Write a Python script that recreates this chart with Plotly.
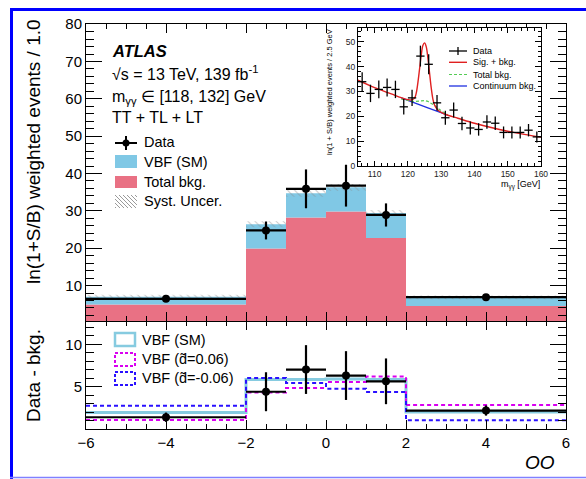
import plotly.graph_objects as go

# ---------------- data ----------------
edges = [-6, -2, -1, 0, 1, 2, 6]
bkg = [4.9, 19.9, 28.2, 29.8, 22.7, 4.5]
vbf_main = [2.1, 6.5, 6.5, 6.5, 6.7, 2.3]
syst = [0.5, 0.8, 0.9, 0.9, 0.8, 0.5]
data_main = [6.45, 24.75, 35.9, 36.75, 28.9, 6.88]
data_main_err = [0.5, 2.4, 5.2, 5.6, 3.1, 0.5]

data_sub = [1.39, 4.4, 7.02, 6.31, 5.63, 2.18]
data_sub_err = [0.55, 2.3, 2.88, 2.88, 2.7, 0.6]
vbf_sm = [1.94, 5.85, 5.85, 5.9, 5.85, 2.02]
vbf_p006 = [1.07, 4.32, 4.84, 5.56, 6.19, 2.82]
vbf_m006 = [2.74, 6.03, 5.44, 4.76, 4.37, 1.04]

inset_x = [106.25, 108.75, 111.25, 113.75, 116.25, 118.75, 121.25, 123.75, 126.25,
           128.75, 131.25, 133.75, 136.25, 138.75, 141.25, 143.75, 146.25, 148.75,
           151.25, 153.75, 156.25, 158.75]
inset_y = [33.9, 29.2, 30.8, 31.6, 30.8, 23.8, 27.4, 44.2, 40.9, 25.4, 19.4, 22.5,
           17.1, 15.3, 14.7, 17.7, 17.2, 13.5, 13.5, 13.5, 14.4, 11.7]
inset_yerr = [3.8, 3.5, 3.6, 3.6, 3.5, 3.1, 3.3, 4.2, 4.0, 3.2, 2.8, 3.0, 2.7, 2.6,
              2.5, 2.7, 2.7, 2.4, 2.4, 2.4, 2.5, 2.2]
inset_binhalf = [1.25] * 22

sb_x = [105, 110, 115, 118, 120, 121, 122, 122.5, 123, 123.5, 124, 124.5, 125, 125.5,
        126, 126.5, 127, 127.5, 128, 129, 130, 132, 135, 140, 145, 150, 155, 160]
sb_y = [34.5, 31.5, 29.0, 27.5, 26.7, 26.6, 27.3, 29.3, 33.5, 39.0, 44.5, 48.5, 49.5,
        48.0, 43.5, 37.5, 31.5, 27.0, 24.5, 22.5, 21.6, 20.4, 19.2, 17.2, 15.5, 14.0,
        12.7, 11.6]
tb_x = [118, 120, 122, 124, 125, 126, 128, 130, 132]
tb_y = [26.9, 26.4, 25.9, 26.2, 26.3, 26.0, 24.4, 22.2, 20.6]
cont_x = [118, 120, 122, 124, 126, 128, 130, 132]
cont_y = [27.4, 26.5, 25.5, 24.4, 23.4, 22.4, 21.4, 20.5]

# ---------------- styles ----------------
FONT = "Liberation Sans, Arial, sans-serif"
PINK = "#E97184"
BLUE = "#80C8E5"
CYAN = "#86CBE0"
MAG = "#D900F0"
DBLUE = "#2A10FF"

W, H = 586, 479
ML, MR, MT, MB = 86, 20, 24, 50
PW = W - ML - MR
PH = H - MT - MB


def PX(px):
    return (px - ML) / PW


def PY(py):
    return (H - MB - py) / PH


split = PY(321)

centers = [(a + b) / 2 for a, b in zip(edges[:-1], edges[1:])]
widths = [b - a for a, b in zip(edges[:-1], edges[1:])]
half = [w / 2 for w in widths]
total = [b + v for b, v in zip(bkg, vbf_main)]

fig = go.Figure()

# ---------------- main panel ----------------
fig.add_trace(go.Bar(x=centers, y=bkg, width=widths, base=[0] * len(bkg),
                     marker=dict(color=PINK, line_width=0), xaxis="x2", yaxis="y2"))
fig.add_trace(go.Bar(x=centers, y=vbf_main, width=widths, base=bkg,
                     marker=dict(color=BLUE, line_width=0), xaxis="x2", yaxis="y2"))
fig.add_trace(go.Bar(x=centers, y=[2 * s for s in syst], width=widths,
                     base=[t - s for t, s in zip(total, syst)],
                     marker=dict(color="rgba(0,0,0,0)", line_width=0,
                                 pattern=dict(shape="\\", fgcolor="#8a8a8a",
                                              bgcolor="rgba(0,0,0,0)", size=5, solidity=0.2)),
                     xaxis="x2", yaxis="y2"))
fig.add_trace(go.Scatter(x=centers, y=data_main, mode="markers",
                         marker=dict(color="black", size=8),
                         error_x=dict(type="data", array=half, color="black", thickness=2.2, width=0),
                         error_y=dict(type="data", array=data_main_err, color="black", thickness=2.2, width=0),
                         xaxis="x2", yaxis="y2"))

# ---------------- lower panel ----------------
for vals, col, dash, wid in [(vbf_sm, CYAN, "solid", 3), (vbf_p006, MAG, "4px,3px", 2),
                             (vbf_m006, DBLUE, "4px,3px", 2)]:
    fig.add_trace(go.Scatter(x=edges, y=vals + [vals[-1]], mode="lines",
                             line=dict(color=col, width=wid, dash=dash, shape="hv"),
                             xaxis="x", yaxis="y"))
fig.add_trace(go.Scatter(x=centers, y=data_sub, mode="markers",
                         marker=dict(color="black", size=8),
                         error_x=dict(type="data", array=half, color="black", thickness=2.2, width=0),
                         error_y=dict(type="data", array=data_sub_err, color="black", thickness=2.2, width=0),
                         xaxis="x", yaxis="y"))

# ---------------- inset ----------------
fig.add_trace(go.Scatter(x=cont_x, y=cont_y, mode="lines", line=dict(color="#2030e0", width=1.3),
                         xaxis="x3", yaxis="y3"))
fig.add_trace(go.Scatter(x=tb_x, y=tb_y, mode="lines", line=dict(color="#55cc55", width=1.2, dash="3px,2px"),
                         xaxis="x3", yaxis="y3"))
fig.add_trace(go.Scatter(x=sb_x, y=sb_y, mode="lines", line=dict(color="#e02020", width=1.4, shape="spline"),
                         xaxis="x3", yaxis="y3"))
fig.add_trace(go.Scatter(x=inset_x, y=inset_y, mode="markers", marker=dict(size=1, color="black"),
                         error_x=dict(type="data", array=inset_binhalf, color="black", thickness=1.3, width=0),
                         error_y=dict(type="data", array=inset_yerr, color="black", thickness=1.3, width=0),
                         xaxis="x3", yaxis="y3"))

tickfont = dict(family=FONT, size=15, color="black")
common = dict(showline=True, linecolor="black", linewidth=1, mirror="allticks", ticks="inside",
              showgrid=False, zeroline=False, tickfont=tickfont, tickcolor="black")

fig.update_layout(
    width=W, height=H, margin=dict(l=ML, r=MR, t=MT, b=MB),
    paper_bgcolor="white", plot_bgcolor="white", showlegend=False, barmode="overlay",
    font=dict(family=FONT, color="black"),
    xaxis=dict(common, domain=[0, 1], range=[-6, 6], anchor="y", tick0=-6, dtick=2, ticklen=9,
               minor=dict(dtick=0.5, tick0=-6, ticklen=5, ticks="inside", tickcolor="black")),
    yaxis=dict(common, domain=[0, split], range=[0, 12.75], anchor="x", tickvals=[5, 10], ticklen=16,
               minor=dict(dtick=1, tick0=0, ticklen=8, ticks="inside", tickcolor="black")),
    xaxis2=dict(common, domain=[0, 1], range=[-6, 6], anchor="y2", matches="x", showticklabels=False,
                tick0=-6, dtick=2, ticklen=9,
                minor=dict(dtick=0.5, tick0=-6, ticklen=5, ticks="inside", tickcolor="black")),
    yaxis2=dict(common, domain=[split, 1], range=[0.5, 80.05], anchor="x2", ticklen=16,
                tickvals=[10, 20, 30, 40, 50, 60, 70, 80],
                minor=dict(dtick=2, tick0=0, ticklen=8, ticks="inside", tickcolor="black")),
    xaxis3=dict(common, domain=[PX(358), PX(541)], range=[105, 160], anchor="y3", dtick=10, ticklen=5,
                tickfont=dict(family=FONT, size=8.5, color="#222"),
                minor=dict(dtick=2, ticklen=3, ticks="inside", tickcolor="black")),
    yaxis3=dict(common, domain=[PY(166), PY(28)], range=[0, 55.5], anchor="x3", dtick=10, ticklen=6,
                tickfont=dict(family=FONT, size=8.5, color="#222"),
                minor=dict(dtick=2, ticklen=3, ticks="inside", tickcolor="black")),
)

shapes = []
annos = []


def txt(x, y, s, size, **kw):
    d = dict(xref="paper", yref="paper", x=PX(x), y=PY(y), text=s, showarrow=False,
             xanchor="left", yanchor="middle", font=dict(family=FONT, size=size, color="black"))
    d.update(kw)
    annos.append(d)


def line(x0, y0, x1, y1, color="black", width=2, dash="solid"):
    shapes.append(dict(type="line", xref="paper", yref="paper", x0=PX(x0), y0=PY(y0), x1=PX(x1), y1=PY(y1),
                       line=dict(color=color, width=width, dash=dash)))


def rect(x0, y0, x1, y1, fill=None, color=None, width=0, dash="solid"):
    shapes.append(dict(type="rect", xref="paper", yref="paper", x0=PX(x0), y0=PY(y1), x1=PX(x1), y1=PY(y0),
                       fillcolor=fill if fill else "rgba(0,0,0,0)",
                       line=dict(color=color if color else "rgba(0,0,0,0)", width=width, dash=dash)))


# blue outer frame
rect(10, 8, 586, 11, fill="#0000ff")
rect(10, 8, 13, 479, fill="#0000ff")
line(10, 477.6, 586, 477.6, color="#8080ff", width=1.5)

# axis titles
txt(33, 152, "ln(1+S/B) weighted events / 1.0", 19, textangle=-90, xanchor="center")
txt(33, 376, "Data - bkg.", 19, textangle=-90, xanchor="center")
txt(557, 462, "<i>OO</i>", 19, xanchor="right")

# ATLAS labels
txt(110, 51, "<b><i>ATLAS</i></b>", 16.5)
txt(110, 73, "√s = 13 TeV, 139 fb<sup>-1</sup>", 16)
txt(110, 97, "m<sub>γγ</sub> ∈ [118, 132] GeV", 16)
txt(110, 117, "TT + TL + LT", 16)

# main legend
line(115, 143, 137, 143, width=2)
line(126, 136, 126, 150, width=2)
shapes.append(dict(type="circle", xref="paper", yref="paper", x0=PX(122.5), x1=PX(129.5), y0=PY(146.5),
                   y1=PY(139.5), fillcolor="black", line=dict(width=0)))
txt(142, 142, "Data", 14.5)
rect(115, 155, 137, 168, fill=BLUE)
txt(142, 162, "VBF (SM)", 14.5)
rect(115, 176, 137, 188, fill=PINK)
txt(142, 182, "Total bkg.", 14.5)
bx0, by0, bx1, by1 = 115, 195, 137, 208
for k in range(0, 22, 4):
    xs = bx0 + k
    xe = min(xs + (by1 - by0), bx1)
    line(xs, by0, xe, by0 + (xe - xs), color="#9a9a9a", width=1)
for j in range(4, 13, 4):
    line(bx0, by0 + j, bx0 + (by1 - by0 - j), by1, color="#9a9a9a", width=1)
txt(142, 201, "Syst. Uncer.", 14.5)

# lower legend
rect(115, 333, 135, 346, color=CYAN, width=2.5)
txt(140, 340, "VBF (SM)", 14.5)
rect(115, 353, 135, 366, color=MAG, width=2, dash="3px,2px")
txt(140, 359, "VBF (d̃=0.06)", 14.5)
rect(115, 372, 135, 385, color=DBLUE, width=2, dash="3px,2px")
txt(140, 378, "VBF (d̃=-0.06)", 14.5)

# inset legend & titles
line(449, 51, 467, 51, width=1.3)
line(458, 47, 458, 55, width=1.3)
txt(471, 51, "Data", 9)
line(449, 62.3, 467, 62.3, color="#e02020", width=1.4)
txt(471, 62.3, "Sig. + bkg.", 9)
line(449, 74.5, 467, 74.5, color="#55cc55", width=1.2, dash="3px,2px")
txt(471, 74.5, "Total bkg.", 9)
line(449, 86, 467, 86, color="#2030e0", width=1.3)
txt(471, 86, "Continuum bkg.", 9)
txt(330, 92, "ln(1 + S/B) weighted events / 2.5 GeV", 7.5, textangle=-90, xanchor="center")
txt(542, 185, "m<sub>γγ</sub> [GeV]", 9, xanchor="right")

fig.update_layout(shapes=shapes, annotations=annos)
fig.write_html("out.html",
               post_script="document.documentElement.style.overflow='hidden';"
                           "document.body.style.overflow='hidden';document.body.style.margin='0';")
